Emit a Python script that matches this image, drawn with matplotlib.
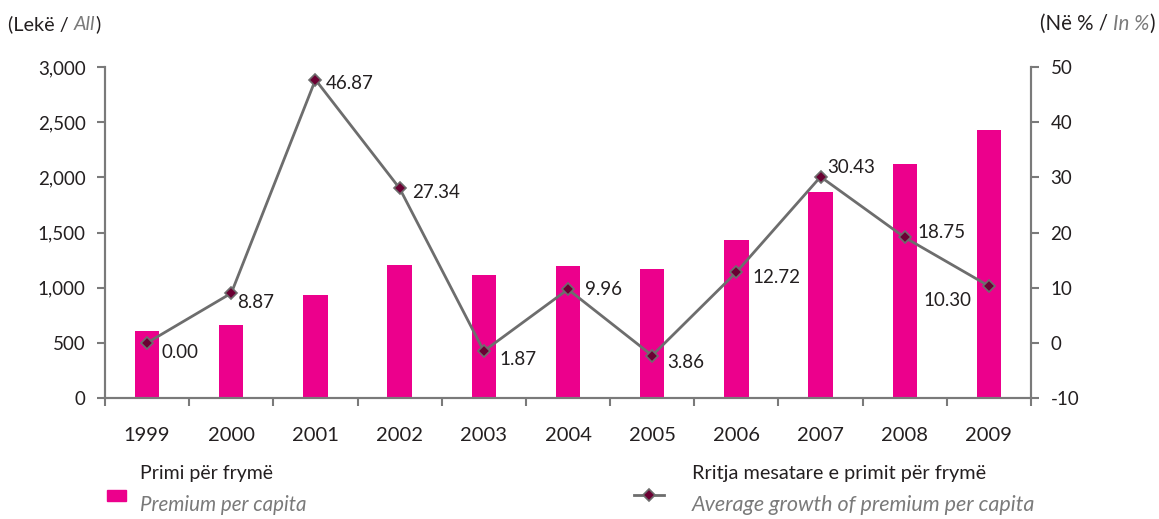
import matplotlib
matplotlib.use("Agg")
import matplotlib.pyplot as plt
from matplotlib.lines import Line2D
from matplotlib.patches import Rectangle
from matplotlib.ticker import FuncFormatter, FixedLocator
import numpy as np

years = ["1999", "2000", "2001", "2002", "2003", "2004", "2005", "2006", "2007", "2008", "2009"]
premium = [607, 661, 932, 1203, 1113, 1194, 1167, 1429, 1865, 2124, 2431]
growth = [0.0, 9.0, 47.7, 28.0, -1.5, 9.7, -2.3, 12.8, 30.1, 19.1, 10.3]
growth_labels = ["0.00", "8.87", "46.87", "27.34", "1.87", "9.96", "3.86", "12.72", "30.43", "18.75", "10.30"]

FONT = "Lato"
TXT = "#231f20"
GRAY = "#7a7a7a"
PINK = "#EC008C"
LINE = "#6d6d6d"
MARK = "#6b0033"

plt.rcParams["font.family"] = [FONT, "DejaVu Sans"]
plt.rcParams["axes.unicode_minus"] = False
fs = 13.5

fig = plt.figure(figsize=(11.59, 5.19), dpi=100)
ax = fig.add_axes([105/1159, 1-398/519, (1031-105)/1159, (398-67)/519])
ax2 = ax.twinx()

x = np.arange(len(years))
ax.bar(x, premium, width=0.29, color=PINK, zorder=2)
ax.set_xlim(-0.5, len(years) - 0.5)
ax.set_ylim(0, 3000)
ax.set_yticks(np.arange(0, 3001, 500))
ax.yaxis.set_major_formatter(FuncFormatter(lambda v, p: f"{int(v):,}"))
ax.set_xticks(x)
ax.set_xticklabels(years)
ax.xaxis.set_minor_locator(FixedLocator(np.arange(-0.5, len(years), 1.0)))
ax.tick_params(axis="x", which="major", length=0, pad=21, labelsize=14.5, labelcolor=TXT)
ax.tick_params(axis="x", which="minor", length=6, width=1.5, color=GRAY, direction="out")
ax.tick_params(axis="y", length=6, width=1.5, color=GRAY, direction="out", labelsize=fs, labelcolor=TXT, pad=8)

ax2.set_ylim(-10, 50)
ax2.set_yticks(np.arange(-10, 51, 10))
ax2.tick_params(axis="y", length=6, width=1.5, color=GRAY, direction="out", labelsize=fs, labelcolor=TXT, pad=8)

for a in (ax, ax2):
    a.spines["top"].set_visible(False)
    for s in ("left", "right", "bottom"):
        a.spines[s].set_color(GRAY)
        a.spines[s].set_linewidth(1.5)

ax2.plot(x, growth, color=LINE, lw=2, marker="D", markersize=6.5,
         markerfacecolor=MARK, markeredgecolor=LINE, markeredgewidth=1.2, zorder=3)

offsets = [(14, -10), (6, -9), (10, -4), (12, -4), (16, -8), (17, 0), (15, -7),
           (16, -5), (7, 9), (13, 5), (-65, -14)]
for xi, yi, lab, off in zip(x, growth, growth_labels, offsets):
    ax2.annotate(lab, (xi, yi), xytext=off, textcoords="offset pixels",
                 ha="left", va="center", fontsize=fs, color=TXT)

fig.canvas.draw()
r = fig.canvas.get_renderer()


def text_run(xpix, ypix, parts, size):
    objs = []
    cur = xpix
    for s, st, col in parts:
        tt = fig.text(cur/1159, 1-ypix/519, s, fontsize=size, color=col, style=st, ha="left", va="center")
        w = tt.get_window_extent(renderer=r).width
        objs.append(tt)
        cur += w
    return objs, cur - xpix


text_run(8, 24, [("(Lekë / ", "normal", TXT), ("All", "italic", GRAY), (")", "normal", TXT)], 14.3)
right_parts = [("(Në % / ", "normal", TXT), ("In %", "italic", GRAY), (")", "normal", TXT)]
tmp, w = text_run(0, -100, right_parts, 14.8)
for tt in tmp:
    tt.remove()
text_run(1155 - w, 24, right_parts, 14.8)

# legend
fig.add_artist(Rectangle((107/1159, 1-501/519), 19/1159, 11/519, transform=fig.transFigure,
                         color=PINK))
fig.text(140/1159, 1-473/519, "Primi për frymë", fontsize=14, color=TXT, va="center")
fig.text(140/1159, 1-505/519, "Premium per capita", fontsize=14.8, color=GRAY, style="italic", va="center")
fig.add_artist(Line2D([634/1159, 664/1159], [1-495/519, 1-495/519], transform=fig.transFigure,
                      color=LINE, lw=2))
fig.add_artist(Line2D([649/1159], [1-495/519], transform=fig.transFigure, color=LINE,
                      marker="D", markersize=6.5, markerfacecolor=MARK, markeredgecolor=LINE,
                      markeredgewidth=1.2, lw=0))
fig.text(692/1159, 1-473/519, "Rritja mesatare e primit për frymë", fontsize=14.3, color=TXT, va="center")
fig.text(692/1159, 1-505/519, "Average growth of premium per capita", fontsize=15.5, color=GRAY, style="italic", va="center")

fig.savefig("out.png", dpi=100)
